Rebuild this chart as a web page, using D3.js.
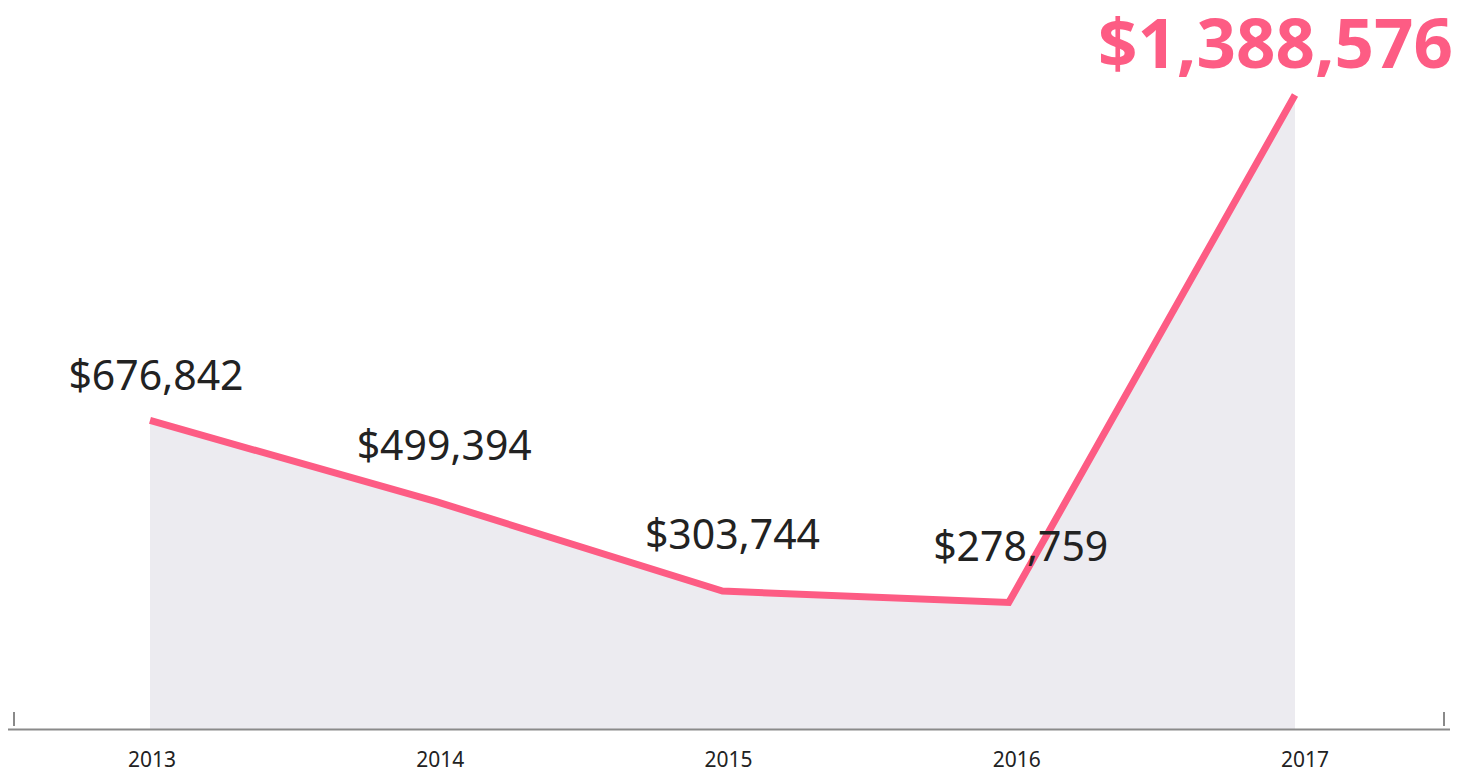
<!DOCTYPE html>
<html>
<head>
<meta charset="utf-8">
<script src="https://cdn.jsdelivr.net/npm/d3@7"></script>
<style>
  body { margin: 0; background: #fff; }
  svg { display: block; font-family: "Noto Sans", sans-serif; }
</style>
</head>
<body>
<div id="chart-area"></div>
<script>
const width = 1471;
const height = 772;

const years = ["2013", "2014", "2015", "2016", "2017"];
const values = [676842, 499394, 303744, 278759, 1388576];

const pink = "#fd5c84";

const svg = d3.select("#chart-area")
    .append("svg")
    .attr("width", width)
    .attr("height", height);

// data positions and label positions are slightly different in the original
const x = d3.scalePoint().domain(years).range([150, 1295]);
const xLabel = d3.scalePoint().domain(years).range([152, 1305]);
const y = d3.scaleLinear().domain([0, d3.max(values)]).range([730, 95]);

const data = years.map((yr, i) => ({ year: yr, value: values[i] }));

const area = d3.area()
    .x(d => x(d.year))
    .y0(y(0))
    .y1(d => y(d.value));

const line = d3.line()
    .x(d => x(d.year))
    .y(d => y(d.value));

svg.append("path")
    .datum(data)
    .attr("d", area)
    .attr("fill", "#ecebf0");

// baseline + little end ticks
svg.append("line")
    .attr("x1", 8).attr("x2", 1450)
    .attr("y1", 729.5).attr("y2", 729.5)
    .attr("stroke", "#8a8a8a")
    .attr("stroke-width", 2);

svg.selectAll(".end-tick")
    .data([14, 1444])
    .enter().append("line")
    .attr("class", "end-tick")
    .attr("x1", d => d).attr("x2", d => d)
    .attr("y1", 712).attr("y2", 726)
    .attr("stroke", "#8a8a8a")
    .attr("stroke-width", 2);

svg.append("path")
    .datum(data)
    .attr("d", line)
    .attr("fill", "none")
    .attr("stroke", pink)
    .attr("stroke-width", 7)
    .attr("stroke-linejoin", "miter");

const fmt = d3.format("$,");

// value labels
svg.selectAll(".val")
    .data(data.slice(0, -1))
    .enter().append("text")
    .attr("class", "val")
    .attr("x", d => xLabel(d.year) + 4)
    .attr("y", (d, i) => y(d.value) - (i === 0 ? 30 : 42))
    .attr("text-anchor", "middle")
    .style("font-size", "41px")
    .style("fill", "#222")
    .text(d => fmt(d.value));

const last = data[data.length - 1];
svg.append("text")
    .attr("x", 1453)
    .attr("y", y(last.value) - 27)
    .attr("text-anchor", "end")
    .style("font-size", "69px")
    .style("font-weight", "bold")
    .style("fill", pink)
    .text(fmt(last.value));

// year labels
svg.selectAll(".year")
    .data(years)
    .enter().append("text")
    .attr("class", "year")
    .attr("x", d => xLabel(d))
    .attr("y", 767)
    .attr("text-anchor", "middle")
    .style("font-size", "21px")
    .style("fill", "#222")
    .text(d => d);
</script>
</body>
</html>
